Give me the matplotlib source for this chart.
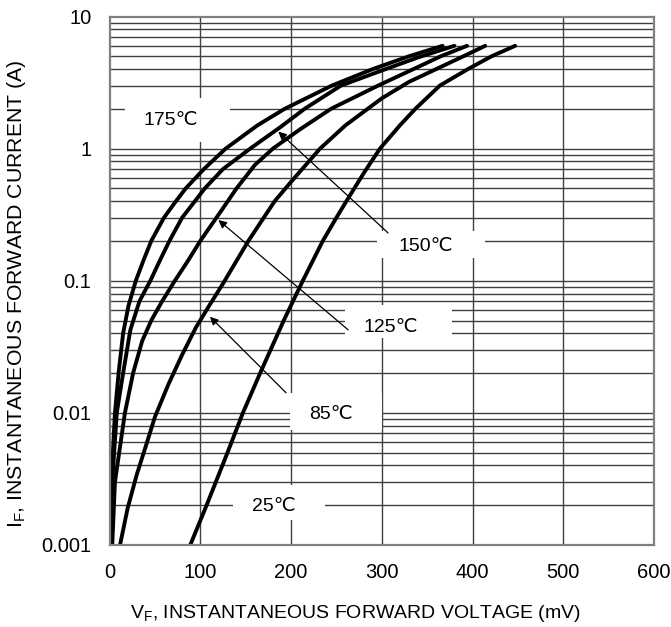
import numpy as np
import matplotlib
matplotlib.use('Agg')
import matplotlib.pyplot as plt
from matplotlib.patches import Rectangle

plt.rcParams['font.family'] = ['Liberation Sans', 'DejaVu Sans']
plt.rcParams['mathtext.default'] = 'regular'

# forward voltage (mV) / forward current (A)
vf_175 = [0, 2, 6, 10, 15, 21, 29, 37, 46, 60, 72, 84, 104, 128, 163, 193, 245, 290, 330, 367]
if_175 = [0.001, 0.003, 0.01, 0.02, 0.04, 0.065, 0.1, 0.14, 0.2, 0.3, 0.39, 0.5, 0.7, 1.0, 1.5, 2.0, 3.0, 4.0, 5.0, 6.0]

vf_150 = [1, 3, 8, 15, 23, 33, 45, 55, 66, 80, 105, 125, 155, 188, 215, 255, 300, 340, 380]
if_150 = [0.001, 0.003, 0.01, 0.02, 0.0425, 0.07, 0.1, 0.14, 0.2, 0.3, 0.5, 0.7, 1.0, 1.45, 2.0, 3.0, 3.9, 4.9, 6.0]

vf_125 = [3, 6, 17, 26, 36, 46, 58, 72, 86, 100, 122, 140, 160, 180, 210, 244, 296, 335, 365, 394]
if_125 = [0.001, 0.003, 0.01, 0.02, 0.035, 0.05, 0.07, 0.1, 0.14, 0.2, 0.33, 0.5, 0.75, 1.0, 1.4, 2.0, 3.0, 4.0, 5.0, 6.0]

vf_85 = [11.6, 20, 30, 40, 50, 65, 80, 95, 110, 125, 153, 182, 200, 232, 260, 300, 330, 360, 390, 414]
if_85 = [0.001, 0.0019, 0.0034, 0.0056, 0.0093, 0.0165, 0.0275, 0.044, 0.065, 0.095, 0.2, 0.4, 0.56, 1.0, 1.5, 2.4, 3.2, 4.0, 5.0, 6.0]

vf_25 = [89, 107, 130, 147, 166, 192, 213, 235, 250, 261, 280, 298, 320, 337, 364, 395, 421, 447]
if_25 = [0.001, 0.002, 0.005, 0.01, 0.02, 0.05, 0.1, 0.2, 0.3, 0.4, 0.65, 1.0, 1.5, 2.0, 3.0, 4.0, 5.0, 6.0]

x_ticks = [0, 100, 200, 300, 400, 500, 600]
y_ticks = [0.001, 0.01, 0.1, 1, 10]
y_labels = ['0.001', '0.01', '0.1', '1', '10']

fig = plt.figure(figsize=(6.71, 6.27), dpi=100)
ax = fig.add_axes([109.5/671, 1-545/627, (654-109.5)/671, (545-16.5)/627])

ax.set_yscale('log')
ax.set_xlim(0, 600)
ax.set_ylim(0.001, 10)

# grid
for x in x_ticks[1:-1]:
    ax.axvline(x, color='#404040', lw=1.0, zorder=0.5)
for dec in [0.001, 0.01, 0.1, 1]:
    for m in range(1, 10):
        ax.axhline(dec*m, color='#404040', lw=1.0, zorder=0.5)

for vf, i_f in [(vf_175, if_175), (vf_150, if_150), (vf_125, if_125),
                (vf_85, if_85), (vf_25, if_25)]:
    ax.plot(vf, i_f, color='black', lw=2.8, zorder=3,
            solid_capstyle='round', solid_joinstyle='round')

# label boxes (white, hide the grid behind the text)
boxes = [
    ('175℃', (17, 1.124), (133, 2.42), (68, 1.62)),
    ('150℃', (295, 0.148), (414, 0.236), (348, 0.182)),
    ('125℃', (259, 0.0369), (377, 0.0656), (310, 0.044)),
    ('85℃', (199, 0.0074), (300, 0.01416), (244, 0.00964)),
    ('25℃', (136, 0.00155), (237, 0.00285), (181, 0.00195)),
]
for txt, lo, hi, c in boxes:
    ax.add_patch(Rectangle(lo, hi[0]-lo[0], hi[1]-lo[1], facecolor='white',
                           edgecolor='none', zorder=1))
    ax.text(c[0], c[1], txt, ha='center', va='center', fontsize=14, zorder=4)

# arrows to the curves
arrows = [((307, 0.230), (186, 1.345)),
          ((263, 0.0425), (120, 0.288)),
          ((194.5, 0.0142), (110.7, 0.0534))]
for start, tip in arrows:
    ax.annotate('', xy=tip, xytext=start, zorder=4,
                arrowprops=dict(arrowstyle='-|>', color='black', lw=0.9,
                                mutation_scale=12, shrinkA=0, shrinkB=0))

ax.set_xticks(x_ticks)
ax.set_xticklabels([str(v) for v in x_ticks])
ax.set_yticks(y_ticks)
ax.set_yticklabels(y_labels)
ax.yaxis.set_minor_locator(matplotlib.ticker.NullLocator())
ax.tick_params(axis='both', length=0, pad=13, labelsize=14.5)

for s in ax.spines.values():
    s.set_color('#808080')
    s.set_linewidth(1.6)
    s.set_zorder(5)

fig.text(355.5/671, 1-614/627, 'V$_F$, INSTANTANEOUS FORWARD VOLTAGE (mV)',
         fontsize=14, ha='center', va='center')
fig.text(17/671, 1-294/627, 'I$_F$, INSTANTANEOUS FORWARD CURRENT (A)',
         fontsize=15.3, ha='center', va='center', rotation=90)

fig.savefig('out.png', dpi=100)
